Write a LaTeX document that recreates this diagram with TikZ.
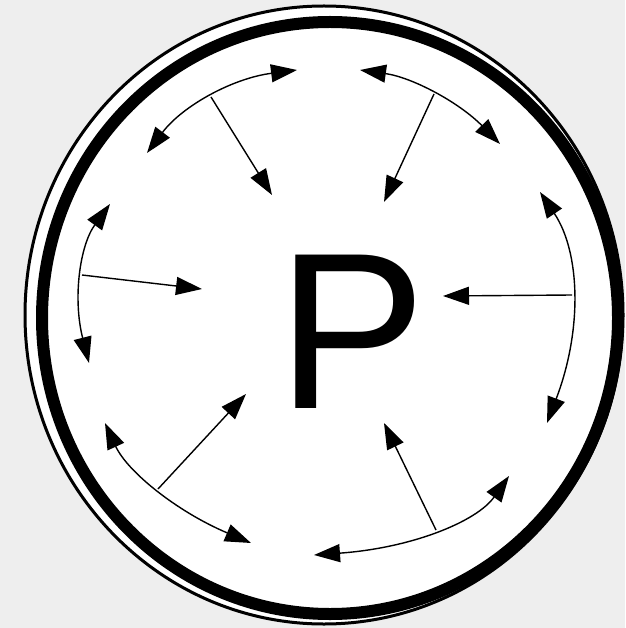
\documentclass[tikz,border=0pt]{standalone}
\usepackage{fontspec}
\setmainfont{Liberation Sans}
\usetikzlibrary{arrows.meta,calc}
\definecolor{bg}{RGB}{238,238,238}
\begin{document}
\begin{tikzpicture}[x=1pt,y=-1pt,
  tipshape/.tip={Triangle[length=26pt,width=18pt]},
  flow/.style={line width=1.4pt,-tipshape},
  swing/.style={line width=1.4pt,tipshape-tipshape},
  rimthin/.style={line width=3pt,fill=white},
  rimthick/.style={line width=12pt,fill=white}]
\useasboundingbox (0,0) rectangle (625,628);
\fill[bg] (0,0) rectangle (625,628);
\draw[rimthin] (324,315) ellipse [x radius=299pt, y radius=309pt];
\draw[rimthick] (330,318) ellipse [x radius=288pt, y radius=296pt];
\node[font=\fontsize{223}{223}\selectfont, inner sep=0pt] (p) at (352,332) {P};
% top-left
\coordinate (a1) at (147,153); \coordinate (m1) at (211,97);  \coordinate (b1) at (297,70);  \coordinate (t1) at (272,195);
% top-right
\coordinate (a2) at (360,70);  \coordinate (m2) at (434,94);  \coordinate (b2) at (500,144); \coordinate (t2) at (384,202);
% right
\coordinate (a3) at (540,192); \coordinate (m3) at (572,295); \coordinate (b3) at (547,423); \coordinate (t3) at (443,296);
% bottom-right
\coordinate (a4) at (509,476); \coordinate (m4) at (436,530); \coordinate (b4) at (314,555); \coordinate (t4) at (384,423);
% bottom-left
\coordinate (a5) at (105,423); \coordinate (m5) at (158,489); \coordinate (b5) at (251,543); \coordinate (t5) at (246,394);
% left
\coordinate (a6) at (110,204); \coordinate (m6) at (82,275);  \coordinate (b6) at (89,363);  \coordinate (t6) at (202,289);
\foreach \i in {1,...,6} {
  \draw[swing] (a\i) .. controls ($1.3333*(m\i)-0.3333*(b\i)$) and ($1.3333*(m\i)-0.3333*(a\i)$) .. (b\i);
  \draw[flow] (m\i) -- (t\i);
}
\end{tikzpicture}
\end{document}
